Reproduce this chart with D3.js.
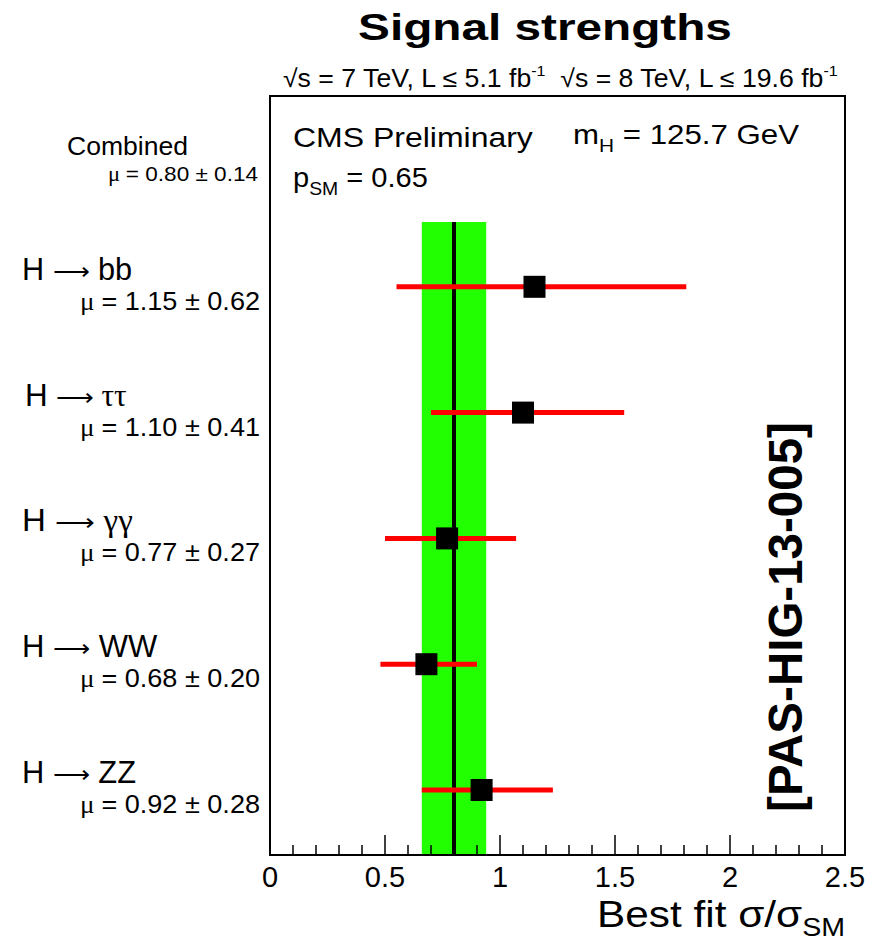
<!DOCTYPE html>
<html><head><meta charset="utf-8">
<script src="https://cdn.jsdelivr.net/npm/d3@7"></script>
<style>body{margin:0;background:#fff}svg{display:block}text{font-family:"Liberation Sans",Arial,Helvetica,sans-serif;fill:#000}</style>
</head><body>
<svg id="c" width="872" height="944"></svg>
<script>
const channels = ["bb", "ττ", "γγ", "WW", "ZZ"];
const channelNames = ["bb", "ττ", "γγ", "WW", "ZZ"];
const muValues = [1.15, 1.10, 0.77, 0.68, 0.92];
const muLow = [0.55, 0.70, 0.50, 0.48, 0.66];
const muHigh = [1.81, 1.54, 1.07, 0.90, 1.23];
const muText = ["= 1.15 ± 0.62", "= 1.10 ± 0.41", "= 0.77 ± 0.27", "= 0.68 ± 0.20", "= 0.92 ± 0.28"];
const combinedMu = 0.80;
const combinedErr = 0.14;
const xTicks = [0, 0.5, 1, 1.5, 2, 2.5];

const svg = d3.select("#c");
const L = 270, R = 845, T = 96, B = 855;
const x = d3.scaleLinear().domain([0, 2.5]).range([L, R]);
const rows = ["Combined"].concat(channels);
const y = d3.scalePoint().domain(rows).range([161, 790]);
const greekFont = "Liberation Serif";

function fitText(px, py, anchor, size, weight, width, build) {
  const g = svg.append("g");
  const t = g.append("text").attr("text-anchor", anchor).attr("font-size", size).attr("font-weight", weight || "normal");
  build(t);
  const w = t.node().getBBox().width;
  const s = width ? width / w : 1;
  g.attr("transform", `translate(${px},${py}) scale(${s},1)`);
  return g;
}

// band
svg.append("rect").attr("x", x(combinedMu - combinedErr)).attr("width", x(combinedMu + combinedErr) - x(combinedMu - combinedErr))
  .attr("y", 222).attr("height", B - 222).attr("fill", "#22ff00");
svg.append("line").attr("x1", x(combinedMu)).attr("x2", x(combinedMu)).attr("y1", 222).attr("y2", B)
  .attr("stroke", "#000").attr("stroke-width", 4);

// error bars + markers
channels.forEach((c, i) => {
  svg.append("line").attr("x1", x(muLow[i])).attr("x2", x(muHigh[i])).attr("y1", y(c)).attr("y2", y(c))
    .attr("stroke", "#ff0000").attr("stroke-width", 5);
  svg.append("rect").attr("x", x(muValues[i]) - 11).attr("y", y(c) - 11).attr("width", 22).attr("height", 22).attr("fill", "#000");
});

// frame
svg.append("rect").attr("x", L).attr("y", T).attr("width", R - L).attr("height", B - T)
  .attr("fill", "none").attr("stroke", "#000").attr("stroke-width", 2);

// ticks
const minor = d3.range(0, 26).map(d => d / 10);
svg.selectAll("line.tk").data(minor).enter().append("line")
  .attr("x1", d => x(d)).attr("x2", d => x(d)).attr("y1", B)
  .attr("y2", (d, i) => B - (i % 5 === 0 ? 20 : 10)).attr("stroke", "#000").attr("stroke-width", 1.5);

svg.selectAll("text.xt").data(xTicks).enter().append("text")
  .attr("x", d => x(d)).attr("y", 887).attr("text-anchor", "middle").attr("font-size", 29).text(d => d);

// axis title
fitText(R, 927, "end", 37, "normal", 248, t => {
  t.append("tspan").text("Best fit σ/σ");
  t.append("tspan").attr("font-size", 25).attr("dy", 9).text("SM");
});

// title
fitText(545, 40, "middle", 37, "bold", 374, t => t.text("Signal strengths"));
fitText(283, 87, "start", 25, "normal", 555, t => {
  t.append("tspan").text("√s = 7 TeV, L ≤ 5.1 fb");
  t.append("tspan").attr("font-size", 15).attr("dy", -11).text("-1");
  t.append("tspan").attr("dy", 11).text("\u00a0\u00a0√s = 8 TeV, L ≤ 19.6 fb");
  t.append("tspan").attr("font-size", 15).attr("dy", -11).text("-1");
});

// CMS labels
fitText(293, 147, "start", 28, "normal", 240, t => t.text("CMS Preliminary"));
fitText(573, 144, "start", 27, "normal", 226, t => {
  t.append("tspan").text("m");
  t.append("tspan").attr("font-size", 18).attr("dy", 8).text("H");
  t.append("tspan").attr("dy", -8).text(" = 125.7 GeV");
});
fitText(293, 187, "start", 27, "normal", 135, t => {
  t.append("tspan").text("p");
  t.append("tspan").attr("font-size", 18).attr("dy", 8).text("SM");
  t.append("tspan").attr("dy", -8).text(" = 0.65");
});

// row labels
fitText(67, 155, "start", 26, "normal", 121, t => t.text("Combined"));
fitText(258, 181, "end", 20, "normal", 150, t => {
  t.append("tspan").attr("font-family", greekFont).text("μ ");
  t.append("tspan").text("= 0.80 ± 0.14");
});
const nameX = [22, 25, 22, 22, 22];
const nameW = [110, 102, 110, 136, 114];
channels.forEach((c, i) => {
  fitText(nameX[i], y(c) - 7, "start", 31, "normal", nameW[i], t => {
    t.append("tspan").text("H ");
    t.append("tspan").attr("font-family", "DejaVu Sans").attr("font-weight", 200).attr("font-size", 26).text("⟶");
    const isGreek = /[τγ]/.test(channelNames[i]);
    t.append("tspan").attr("font-family", isGreek ? greekFont : null).text(" " + channelNames[i]);
  });
  fitText(260, y(c) + 23, "end", 25, "normal", 180, t => {
    t.append("tspan").attr("font-family", greekFont).text("μ ");
    t.append("tspan").text(muText[i]);
  });
});

// rotated label
const rg = svg.append("g").attr("transform", "translate(802,617) rotate(-90)");
const rt = rg.append("text").attr("text-anchor", "middle").attr("font-size", 48).attr("font-weight", "bold").text("[PAS-HIG-13-005]");
const rw = rt.node().getBBox().width;
rt.attr("transform", `scale(${390 / rw},1)`);
</script>
</body></html>
